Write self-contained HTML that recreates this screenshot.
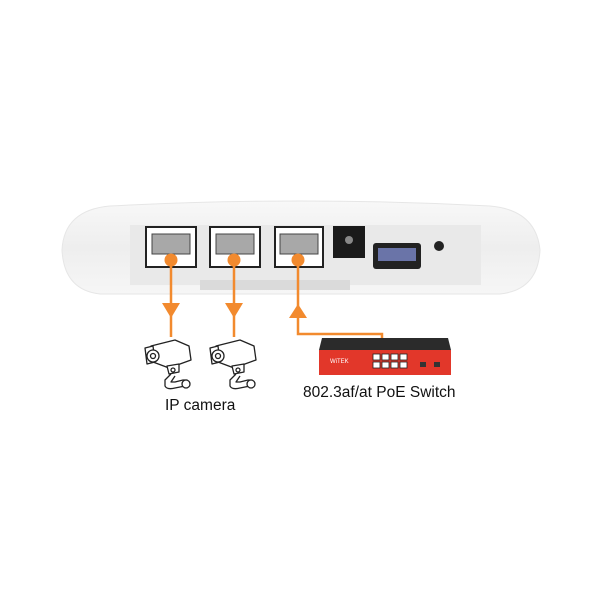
<!DOCTYPE html>
<html><head><style>
body{margin:0;background:#fff;width:600px;height:600px;overflow:hidden;font-family:"Liberation Sans",sans-serif}
</style></head><body>
<svg width="600" height="600" viewBox="0 0 600 600" xmlns="http://www.w3.org/2000/svg">
<defs>
<linearGradient id="bd" x1="0" y1="0" x2="0" y2="1">
<stop offset="0" stop-color="#f8f8f8"/><stop offset="0.5" stop-color="#eeeeee"/><stop offset="1" stop-color="#f6f6f6"/>
</linearGradient>
<g id="cam" fill="#fff" stroke="#222" stroke-width="1.3" stroke-linejoin="round">
<path d="M6 8 L30 2 L44 8 L46 22 L24 30 L8 24 Z"/>
<path d="M0 10 L8 8 L10 24 L2 26 Z"/>
<circle cx="8" cy="18" r="6"/><circle cx="8" cy="18" r="2.5"/>
<path d="M22 28 L34 26 L34 34 L24 36 Z"/>
<circle cx="28" cy="32" r="2"/>
<path d="M26 36 L20 42 L20 48 Q22 52 30 50 L40 48 Q44 46 42 42 L38 42 L30 44 L26 44 L30 38"/>
<circle cx="41" cy="46" r="4"/>
</g>
</defs>
<path d="M62 250 Q64 210 110 206 Q300 196 490 206 Q536 210 540 250 Q538 290 500 294 L100 294 Q64 290 62 250 Z" fill="url(#bd)" stroke="#e6e6e6"/>
<rect x="130" y="225" width="351" height="60" fill="#e9e9e9"/>
<rect x="200" y="280" width="150" height="10" fill="#dadada"/>
<g fill="#fff" stroke="#222" stroke-width="2">
<rect x="146" y="227" width="50" height="40"/><rect x="210" y="227" width="50" height="40"/><rect x="275" y="227" width="48" height="40"/>
</g>
<g fill="#a8a8a8" stroke="#444">
<rect x="152" y="234" width="38" height="20"/><rect x="216" y="234" width="38" height="20"/><rect x="280" y="234" width="38" height="20"/>
</g>
<rect x="333" y="226" width="32" height="32" fill="#1a1a1a"/>
<circle cx="349" cy="240" r="4" fill="#888"/>
<rect x="373" y="243" width="48" height="26" rx="3" fill="#222"/>
<rect x="378" y="248" width="38" height="13" fill="#6a74a8"/>
<circle cx="439" cy="246" r="5" fill="#222"/>
<g stroke="#f28a2e" stroke-width="2.5" fill="none">
<line x1="171" y1="260" x2="171" y2="337"/>
<line x1="234" y1="260" x2="234" y2="337"/>
<polyline points="298,260 298,334 382,334 382,338"/>
</g>
<g fill="#f28a2e">
<circle cx="171" cy="260" r="6.5"/><circle cx="234" cy="260" r="6.5"/><circle cx="298" cy="260" r="6.5"/>
<polygon points="162,303 180,303 171,318"/>
<polygon points="225,303 243,303 234,318"/>
<polygon points="289,318 307,318 298,304"/>
</g>
<use href="#cam" x="145" y="338"/>
<use href="#cam" x="210" y="338"/>
<path d="M322 338 L448 338 L451 350 L319 350 Z" fill="#2b2b2b"/>
<rect x="319" y="350" width="132" height="25" fill="#e2372a"/>
<text x="330" y="363" font-size="6" fill="#fff">WiTEK</text>
<g fill="#fff" stroke="#222" stroke-width="0.8">
<rect x="373" y="354" width="7" height="6"/><rect x="382" y="354" width="7" height="6"/><rect x="391" y="354" width="7" height="6"/><rect x="400" y="354" width="7" height="6"/>
<rect x="373" y="362" width="7" height="6"/><rect x="382" y="362" width="7" height="6"/><rect x="391" y="362" width="7" height="6"/><rect x="400" y="362" width="7" height="6"/>
</g>
<rect x="420" y="362" width="6" height="5" fill="#333"/><rect x="434" y="362" width="6" height="5" fill="#333"/>
<text x="303" y="397" font-size="15.5" fill="#111">802.3af/at PoE Switch</text>
<text x="165" y="410" font-size="15.5" fill="#111">IP camera</text>
</svg>
</body></html>
